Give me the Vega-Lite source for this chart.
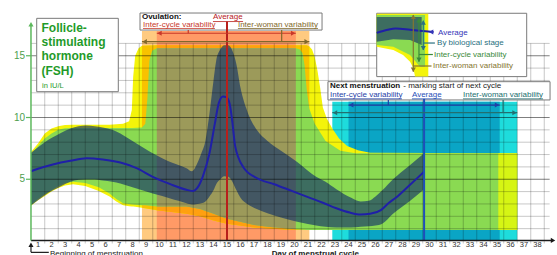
{
"$schema":"https://vega.github.io/schema/vega-lite/v6.json",
"width":557,"height":255,"padding":0,"autosize":{"type":"none"},"background":"white",
"config":{"view":{"stroke":null},"text":{"font":"Liberation Sans"}},
"datasets":{
"cols":[{"k":"ov_w","d":8.7,"d2":21.1,"v":0,"v2":17.0},{"k":"ov_c","d":9.8,"d2":20.1,"v":0,"v2":17.0},{"k":"mn_w","d":22.8,"d2":36.5,"v":0,"v2":11.28},{"k":"mn_c","d":24.0,"d2":35.2,"v":0,"v2":11.28}],
"yw":[{"d":0.48,"v":2.85,"v2":7.2},{"d":1.0,"v":3.3,"v2":7.9},{"d":1.5,"v":3.65,"v2":8.7},{"d":2.0,"v":4.0,"v2":9.1},{"d":2.5,"v":4.3,"v2":9.3},{"d":3.0,"v":4.5,"v2":9.4},{"d":3.6,"v":4.6,"v2":9.42},{"d":4.5,"v":4.45,"v2":9.42},{"d":5.5,"v":4.05,"v2":9.42},{"d":6.3,"v":3.6,"v2":9.42},{"d":6.8,"v":3.2,"v2":9.45},{"d":7.3,"v":2.9,"v2":9.5},{"d":7.75,"v":2.82,"v2":9.7},{"d":7.95,"v":2.8,"v2":10.6},{"d":8.05,"v":2.79,"v2":13.3},{"d":8.2,"v":2.77,"v2":15.0},{"d":8.45,"v":2.74,"v2":15.6},{"d":8.7,"v":2.7,"v2":15.8},{"d":9.8,"v":2.5,"v2":15.85},{"d":12.0,"v":2.2,"v2":15.85},{"d":13.0,"v":2.0,"v2":15.85},{"d":14.0,"v":1.65,"v2":15.85},{"d":15.0,"v":1.4,"v2":15.85},{"d":17.0,"v":1.1,"v2":15.85},{"d":19.0,"v":0.95,"v2":15.85},{"d":20.1,"v":0.9,"v2":15.85},{"d":20.9,"v":0.9,"v2":15.85},{"d":21.1,"v":0.9,"v2":15.75},{"d":21.3,"v":0.9,"v2":15.5},{"d":21.5,"v":0.9,"v2":14.9},{"d":21.7,"v":0.9,"v2":13.8},{"d":21.9,"v":0.9,"v2":12.4},{"d":22.1,"v":0.9,"v2":10.8},{"d":22.4,"v":0.9,"v2":9.9},{"d":22.8,"v":0.9,"v2":9.1},{"d":23.3,"v":0.9,"v2":8.3},{"d":23.9,"v":0.9,"v2":7.7},{"d":24.7,"v":0.9,"v2":7.35},{"d":25.6,"v":0.9,"v2":7.15},{"d":35.1,"v":0.9,"v2":7.1},{"d":36.5,"v":0.9,"v2":7.1}],
"gc":[{"d":0.48,"v":2.9,"v2":7.05},{"d":1.0,"v":3.4,"v2":7.7},{"d":1.5,"v":3.8,"v2":8.3},{"d":2.0,"v":4.1,"v2":8.7},{"d":2.5,"v":4.45,"v2":9.0},{"d":3.0,"v":4.7,"v2":9.12},{"d":3.6,"v":4.8,"v2":9.15},{"d":4.5,"v":4.7,"v2":9.15},{"d":5.5,"v":4.35,"v2":9.15},{"d":6.3,"v":3.85,"v2":9.15},{"d":6.8,"v":3.4,"v2":9.15},{"d":7.3,"v":3.05,"v2":9.15},{"d":8.0,"v":2.95,"v2":9.15},{"d":8.7,"v":2.9,"v2":9.2},{"d":8.95,"v":2.89,"v2":9.5},{"d":9.1,"v":2.88,"v2":11.5},{"d":9.25,"v":2.86,"v2":14.6},{"d":9.45,"v":2.83,"v2":15.4},{"d":9.8,"v":2.8,"v2":15.6},{"d":12.0,"v":2.8,"v2":15.6},{"d":13.0,"v":2.6,"v2":15.6},{"d":14.0,"v":2.2,"v2":15.6},{"d":15.0,"v":1.8,"v2":15.6},{"d":17.0,"v":1.3,"v2":15.6},{"d":18.0,"v":1.15,"v2":15.6},{"d":20.1,"v":0.95,"v2":15.6},{"d":20.4,"v":0.93,"v2":15.5},{"d":20.6,"v":0.92,"v2":15.2},{"d":20.75,"v":0.91,"v2":14.2},{"d":20.9,"v":0.9,"v2":12.3},{"d":21.1,"v":0.9,"v2":10.7},{"d":21.5,"v":0.9,"v2":9.5},{"d":22.3,"v":0.9,"v2":8.1},{"d":23.4,"v":0.9,"v2":7.3},{"d":24.5,"v":0.9,"v2":7.1},{"d":35.1,"v":0.9,"v2":7.1}],
"bs":[{"d":0.48,"v":2.9,"v2":7.15},{"d":1.0,"v":3.3,"v2":7.6},{"d":1.5,"v":3.7,"v2":8.0},{"d":2.1,"v":4.1,"v2":8.4},{"d":2.8,"v":4.5,"v2":8.8},{"d":3.4,"v":4.8,"v2":9.1},{"d":4.0,"v":4.95,"v2":9.3},{"d":4.6,"v":5.0,"v2":9.35},{"d":5.2,"v":5.0,"v2":9.3},{"d":5.8,"v":4.9,"v2":9.2},{"d":6.5,"v":4.8,"v2":9.0},{"d":7.1,"v":4.65,"v2":8.7},{"d":7.7,"v":4.45,"v2":8.3},{"d":8.3,"v":4.25,"v2":7.9},{"d":8.9,"v":4.05,"v2":7.5},{"d":9.5,"v":3.85,"v2":7.1},{"d":10.2,"v":3.65,"v2":6.7},{"d":10.8,"v":3.45,"v2":6.4},{"d":11.4,"v":3.25,"v2":6.15},{"d":12.0,"v":3.05,"v2":5.9},{"d":12.4,"v":2.95,"v2":5.65},{"d":12.8,"v":3.0,"v2":6.3},{"d":13.1,"v":3.05,"v2":7.1},{"d":13.4,"v":3.2,"v2":8.1},{"d":13.7,"v":3.6,"v2":10.3},{"d":14.0,"v":4.1,"v2":13.0},{"d":14.2,"v":4.6,"v2":14.6},{"d":14.5,"v":5.0,"v2":15.5},{"d":14.8,"v":5.25,"v2":15.85},{"d":15.1,"v":5.2,"v2":15.85},{"d":15.4,"v":4.8,"v2":15.4},{"d":15.7,"v":4.1,"v2":14.3},{"d":16.0,"v":3.5,"v2":12.4},{"d":16.5,"v":3.0,"v2":10.5},{"d":17.2,"v":2.6,"v2":9.0},{"d":18.0,"v":2.25,"v2":8.1},{"d":19.0,"v":1.9,"v2":7.3},{"d":20.2,"v":1.55,"v2":6.4},{"d":21.6,"v":1.25,"v2":5.2},{"d":22.3,"v":1.15,"v2":4.8},{"d":23.1,"v":1.1,"v2":4.2},{"d":24.2,"v":1.1,"v2":3.5},{"d":24.9,"v":1.15,"v2":3.2},{"d":25.5,"v":1.2,"v2":3.25},{"d":26.0,"v":1.25,"v2":3.6},{"d":26.5,"v":1.4,"v2":4.1},{"d":27.3,"v":2.2,"v2":5.0},{"d":28.5,"v":3.2,"v2":6.1},{"d":29.6,"v":4.2,"v2":7.1}],
"avg":[{"d":0.48,"v":5.65},{"d":1.0,"v":5.85},{"d":2.1,"v":6.2},{"d":3.4,"v":6.5},{"d":4.6,"v":6.7},{"d":5.8,"v":6.6},{"d":7.1,"v":6.35},{"d":8.3,"v":5.9},{"d":9.5,"v":5.2},{"d":10.8,"v":4.6},{"d":12.0,"v":4.15},{"d":12.5,"v":4.05},{"d":12.8,"v":4.3},{"d":13.2,"v":5.2},{"d":13.7,"v":7.1},{"d":14.1,"v":9.5},{"d":14.4,"v":11.2},{"d":14.7,"v":11.7},{"d":14.95,"v":11.65},{"d":15.2,"v":11.1},{"d":15.4,"v":9.6},{"d":15.6,"v":7.7},{"d":16.2,"v":6.0},{"d":17.2,"v":5.1},{"d":18.5,"v":4.6},{"d":19.7,"v":4.1},{"d":21.0,"v":3.55},{"d":22.1,"v":3.1},{"d":23.1,"v":2.65},{"d":24.1,"v":2.3},{"d":24.9,"v":2.15},{"d":25.6,"v":2.2},{"d":26.4,"v":2.5},{"d":27.0,"v":3.1},{"d":27.5,"v":3.5},{"d":28.5,"v":4.5},{"d":29.6,"v":5.6}],
"boxes":[{"d":0.904,"d2":6.948,"v":12.09,"v2":18.03},{"d":8.556,"d2":22.04,"v":17.08,"v2":18.46},{"d":22.48,"d2":38.93,"v":11.42,"v2":12.9},{"d":26.09,"d2":37.2,"v":13.31,"v2":18.44}],
"lgy":[{"d":26.09,"v":15.73,"v2":18.4},{"d":27.32,"v":15.47,"v2":18.4},{"d":28.04,"v":15.06,"v2":18.4},{"d":28.56,"v":14.52,"v2":18.4},{"d":28.8,"v":14.0,"v2":18.4},{"d":28.93,"v":13.31,"v2":18.4},{"d":29.91,"v":13.31,"v2":18.4}],
"lgg":[{"d":26.09,"v":15.87,"v2":18.3},{"d":27.32,"v":15.73,"v2":18.3},{"d":28.56,"v":15.06,"v2":18.3},{"d":29.3,"v":14.11,"v2":18.3},{"d":29.67,"v":14.11,"v2":18.3}],
"lgd":[{"d":26.09,"v":16.14,"v2":18.14},{"d":27.32,"v":16.33,"v2":18.14},{"d":28.56,"v":16.28,"v2":18.14},{"d":29.42,"v":15.87,"v2":18.14}],
"lgavg":[{"d":26.09,"v":16.85},{"d":26.9,"v":17.1},{"d":27.5,"v":17.2},{"d":28.56,"v":17.1},{"d":29.5,"v":17.0},{"d":30.3,"v":16.92}],
"vavg":[{"k":"ov_avg","d":15.0,"v":0,"v2":17.77},{"k":"mn_avg","d":29.6,"v":0,"v2":11.51}],
"hr":[{"k":"ov_cycle","d":9.8,"d2":20.1,"v":16.82},{"k":"ov_woman","d":8.7,"d2":21.1,"v":16.14},{"k":"mn_cycle","d":24.0,"d2":35.2,"v":11.01},{"k":"mn_woman","d":22.8,"d2":36.5,"v":10.39},{"k":"lg_woman","d":28.8,"d2":30.15,"v":14.17},{"k":"lg_cycle","d":29.22,"d2":30.25,"v":15.1},{"k":"lg_stage","d":29.54,"d2":30.4,"v":16.03},{"k":"axis_y","d":0.11,"d2":0.48,"v":5},{"k":"axis_y","d":0.11,"d2":0.48,"v":10},{"k":"axis_y","d":0.11,"d2":0.48,"v":15},{"k":"axis_x","d":0.48,"d2":1.8,"v":-0.92}],
"ul":[{"k":"ov_avg","d":13.96,"d2":16.19,"v":17.77},{"k":"ov_cycle","d":8.78,"d2":14.11,"v":17.21},{"k":"ov_woman","d":15.81,"d2":21.74,"v":17.21},{"k":"mn_cycle","d":22.63,"d2":27.96,"v":11.51},{"k":"mn_avg","d":28.7,"d2":30.9,"v":11.51},{"k":"mn_woman","d":32.48,"d2":38.41,"v":11.51}],
"vr":[{"k":"ov_cycle","d":12.13,"v":16.82,"v2":17.09},{"k":"ov_woman","d":19.05,"v":16.14,"v2":17.09},{"k":"mn_cycle","d":26.95,"v":11.01,"v2":11.42},{"k":"mn_woman","d":35.45,"v":10.39,"v2":11.42},{"k":"lg_woman","d":28.8,"v":13.71,"v2":18.3},{"k":"lg_cycle","d":29.22,"v":14.52,"v2":18.03},{"k":"lg_stage","d":29.54,"v":15.47,"v2":17.84},{"k":"axis_x","d":0.48,"v":-0.92,"v2":-0.3}],
"axes":[{"k":"axis_x","d":0.48,"d2":39.1,"v":0.05,"v2":0.05},{"k":"axis_y","d":0.48,"d2":0.48,"v":0.05,"v2":17.55}],
"heads":[{"k":"ov_cycle","d":10.0,"v":16.82,"dir":"L"},{"k":"ov_cycle","d":19.9,"v":16.82,"dir":"R"},{"k":"ov_woman","d":8.9,"v":16.14,"dir":"L"},{"k":"ov_woman","d":20.9,"v":16.14,"dir":"R"},{"k":"mn_cycle","d":24.2,"v":11.01,"dir":"L"},{"k":"mn_cycle","d":35.0,"v":11.01,"dir":"R"},{"k":"mn_woman","d":23.0,"v":10.39,"dir":"L"},{"k":"mn_woman","d":36.3,"v":10.39,"dir":"R"},{"k":"lg_avg","d":30.12,"v":16.92,"dir":"L"},{"k":"lg_woman","d":28.8,"v":18.15,"dir":"U"},{"k":"lg_woman","d":28.8,"v":13.86,"dir":"D"},{"k":"lg_cycle","d":29.22,"v":17.88,"dir":"U"},{"k":"lg_cycle","d":29.22,"v":14.67,"dir":"D"},{"k":"lg_stage","d":29.54,"v":17.69,"dir":"U"},{"k":"lg_stage","d":29.54,"v":15.62,"dir":"D"},{"k":"axis_y","d":0.48,"v":17.55,"dir":"U"},{"k":"axis_x","d":39.15,"v":0.05,"dir":"R"},{"k":"axis_x","d":0.48,"v":-0.3,"dir":"U"}],
"title":[{"t":"Follicle-","d":1.26,"v":16.96},{"t":"stimulating","d":1.26,"v":15.79},{"t":"hormone","d":1.26,"v":14.62},{"t":"(FSH)","d":1.26,"v":13.44}],
"bold":[{"t":"Ovulation:","d":8.7,"v":18.15},{"t":"Next menstruation","d":22.63,"v":12.55}],
"annot":[{"k":"ov_avg","t":"Average","d":13.96,"v":18.15},{"k":"ov_cycle","t":"Inter-cycle variability","d":8.78,"v":17.5},{"k":"ov_woman","t":"Inter-woman variability","d":15.81,"v":17.5},{"k":"plain","t":"- marking start of next cycle","d":28.06,"v":12.55},{"k":"mn_cycle","t":"Inter-cycle variability","d":22.63,"v":11.86},{"k":"mn_avg","t":"Average","d":28.7,"v":11.86},{"k":"mn_woman","t":"Inter-woman variability","d":32.48,"v":11.86},{"k":"lg_avg","t":"Average","d":30.63,"v":16.88},{"k":"lg_stage","t":"By biological stage","d":30.56,"v":16.03},{"k":"lg_cycle","t":"Inter-cycle variability","d":30.33,"v":15.1},{"k":"lg_woman","t":"Inter-woman variability","d":30.26,"v":14.17}],
"ylab":[{"t":"5","d":0.04,"v":5},{"t":"10","d":0.04,"v":10},{"t":"15","d":0.04,"v":15}],
"days":[{"d":1,"v":-0.36,"t":"1"},{"d":2,"v":-0.36,"t":"2"},{"d":3,"v":-0.36,"t":"3"},{"d":4,"v":-0.36,"t":"4"},{"d":5,"v":-0.36,"t":"5"},{"d":6,"v":-0.36,"t":"6"},{"d":7,"v":-0.36,"t":"7"},{"d":8,"v":-0.36,"t":"8"},{"d":9,"v":-0.36,"t":"9"},{"d":10,"v":-0.36,"t":"10"},{"d":11,"v":-0.36,"t":"11"},{"d":12,"v":-0.36,"t":"12"},{"d":13,"v":-0.36,"t":"13"},{"d":14,"v":-0.36,"t":"14"},{"d":15,"v":-0.36,"t":"15"},{"d":16,"v":-0.36,"t":"16"},{"d":17,"v":-0.36,"t":"17"},{"d":18,"v":-0.36,"t":"18"},{"d":19,"v":-0.36,"t":"19"},{"d":20,"v":-0.36,"t":"20"},{"d":21,"v":-0.36,"t":"21"},{"d":22,"v":-0.36,"t":"22"},{"d":23,"v":-0.36,"t":"23"},{"d":24,"v":-0.36,"t":"24"},{"d":25,"v":-0.36,"t":"25"},{"d":26,"v":-0.36,"t":"26"},{"d":27,"v":-0.36,"t":"27"},{"d":28,"v":-0.36,"t":"28"},{"d":29,"v":-0.36,"t":"29"},{"d":30,"v":-0.36,"t":"30"},{"d":31,"v":-0.36,"t":"31"},{"d":32,"v":-0.36,"t":"32"},{"d":33,"v":-0.36,"t":"33"},{"d":34,"v":-0.36,"t":"34"},{"d":35,"v":-0.36,"t":"35"},{"d":36,"v":-0.36,"t":"36"},{"d":37,"v":-0.36,"t":"37"},{"d":38,"v":-0.36,"t":"38"}],
"gridv":[{"d":1.5,"v":-0.2,"v2":16},{"d":2.5,"v":-0.2,"v2":16},{"d":3.5,"v":-0.2,"v2":16},{"d":4.5,"v":-0.2,"v2":16},{"d":5.5,"v":-0.2,"v2":16},{"d":6.5,"v":-0.2,"v2":16},{"d":7.5,"v":-0.2,"v2":16},{"d":8.5,"v":-0.2,"v2":16},{"d":9.5,"v":-0.2,"v2":16},{"d":10.5,"v":-0.2,"v2":16},{"d":11.5,"v":-0.2,"v2":16},{"d":12.5,"v":-0.2,"v2":16},{"d":13.5,"v":-0.2,"v2":16},{"d":14.5,"v":-0.2,"v2":16},{"d":15.5,"v":-0.2,"v2":16},{"d":16.5,"v":-0.2,"v2":16},{"d":17.5,"v":-0.2,"v2":16},{"d":18.5,"v":-0.2,"v2":16},{"d":19.5,"v":-0.2,"v2":16},{"d":20.5,"v":-0.2,"v2":16},{"d":21.5,"v":-0.2,"v2":16},{"d":22.5,"v":-0.2,"v2":16},{"d":23.5,"v":-0.2,"v2":16},{"d":24.5,"v":-0.2,"v2":16},{"d":25.5,"v":-0.2,"v2":16},{"d":26.5,"v":-0.2,"v2":16},{"d":27.5,"v":-0.2,"v2":16},{"d":28.5,"v":-0.2,"v2":16},{"d":29.5,"v":-0.2,"v2":16},{"d":30.5,"v":-0.2,"v2":16},{"d":31.5,"v":-0.2,"v2":16},{"d":32.5,"v":-0.2,"v2":16},{"d":33.5,"v":-0.2,"v2":16},{"d":34.5,"v":-0.2,"v2":16},{"d":35.5,"v":-0.2,"v2":16},{"d":36.5,"v":-0.2,"v2":16},{"d":37.5,"v":-0.2,"v2":16},{"d":38.5,"v":-0.2,"v2":16}],
"gridh":[{"v":1,"d":0.48,"d2":38.9},{"v":2,"d":0.48,"d2":38.9},{"v":3,"d":0.48,"d2":38.9},{"v":4,"d":0.48,"d2":38.9},{"v":6,"d":0.48,"d2":38.9},{"v":7,"d":0.48,"d2":38.9},{"v":8,"d":0.48,"d2":38.9},{"v":9,"d":0.48,"d2":38.9},{"v":11,"d":0.48,"d2":38.9},{"v":12,"d":0.48,"d2":38.9},{"v":13,"d":0.48,"d2":38.9},{"v":14,"d":0.48,"d2":38.9},{"v":16,"d":0.48,"d2":38.9}],
"gridhm":[{"v":5,"d":0.48,"d2":38.9},{"v":10,"d":0.48,"d2":38.9},{"v":15,"d":0.48,"d2":38.9}]
},
"encoding":{
"x":{"field":"d","type":"quantitative","scale":{"domain":[-1.8148,39.4444],"nice":false,"zero":false},"axis":null},
"y":{"field":"v","type":"quantitative","scale":{"domain":[-1.1336,19.5142],"nice":false,"zero":false},"axis":null}
},
"layer":[
{"data":{"name":"cols"},"mark":{"type":"rect"},"encoding":{"x2":{"field":"d2"},"y2":{"field":"v2"},"color":{"field":"k","type":"nominal","legend":null,"scale":{"domain":["ov_w","ov_c","mn_w","mn_c","ov_avg","ov_cycle","ov_woman","mn_avg","mn_cycle","mn_woman","plain","lg_avg","lg_stage","lg_cycle","lg_woman","axis_x","axis_y"],"range":["#ffca80","#ff9a66","#1edcdc","#0aa5c5","#b8201c","#c8382a","#80682a","#1f4fb8","#1f3fa8","#236f70","#1a1a1a","#3434b8","#2a7080","#3a8a3a","#857530","#1a1a1a","#5cb85c"]}}}},
{"data":{"name":"yw"},"mark":{"type":"area","color":"#f4f40a"},"encoding":{"y2":{"field":"v2"}}},
{"data":{"name":"yw"},"transform":[{"filter":"datum.d >= 8.7 && datum.d <= 21.1"}],"mark":{"type":"area","color":"#f8c200"},"encoding":{"y2":{"field":"v2"}}},
{"data":{"name":"yw"},"transform":[{"filter":"datum.d >= 9.8 && datum.d <= 20.1"}],"mark":{"type":"area","color":"#ffa010"},"encoding":{"y2":{"field":"v2"}}},
{"data":{"name":"yw"},"transform":[{"filter":"datum.d >= 35.1"}],"mark":{"type":"area","color":"#d6f514"},"encoding":{"y2":{"field":"v2"}}},
{"data":{"name":"gc"},"mark":{"type":"area","color":"#8ada52"},"encoding":{"y2":{"field":"v2"}}},
{"data":{"name":"gc"},"transform":[{"filter":"datum.d >= 9.8 && datum.d <= 20.1"}],"mark":{"type":"area","color":"#9c9a5a"},"encoding":{"y2":{"field":"v2"}}},
{"data":{"name":"bs"},"mark":{"type":"area","interpolate":"monotone","fill":"#143269","fillOpacity":0.65},"encoding":{"y2":{"field":"v2"}}},
{"data":{"name":"gridh"},"mark":{"type":"rule","color":"#000000","opacity":0.22,"strokeWidth":1},"encoding":{"x2":{"field":"d2"}}},
{"data":{"name":"gridhm"},"mark":{"type":"rule","color":"#000000","opacity":0.5,"strokeWidth":1},"encoding":{"x2":{"field":"d2"}}},
{"data":{"name":"gridv"},"mark":{"type":"rule","color":"#000000","opacity":0.22,"strokeWidth":1},"encoding":{"y2":{"field":"v2"}}},
{"data":{"name":"avg"},"mark":{"type":"line","interpolate":"monotone","color":"#1f1fa8","strokeWidth":2}},
{"data":{"name":"boxes"},"mark":{"type":"rect","fill":"#ffffff","stroke":"#7a7a7a","strokeWidth":1},"encoding":{"x2":{"field":"d2"},"y2":{"field":"v2"}}},
{"data":{"name":"lgy"},"mark":{"type":"area","color":"#f4f40a"},"encoding":{"y2":{"field":"v2"}}},
{"data":{"name":"lgg"},"mark":{"type":"area","color":"#8ada52"},"encoding":{"y2":{"field":"v2"}}},
{"data":{"name":"lgd"},"mark":{"type":"area","fill":"#143269","fillOpacity":0.65},"encoding":{"y2":{"field":"v2"}}},
{"data":{"name":"lgavg"},"mark":{"type":"line","interpolate":"monotone","color":"#1f1fa8","strokeWidth":2}},
{"data":{"name":"vavg"},"mark":{"type":"rule","strokeWidth":2},"encoding":{"y2":{"field":"v2"},"color":{"field":"k","type":"nominal","legend":null,"scale":{"domain":["ov_w","ov_c","mn_w","mn_c","ov_avg","ov_cycle","ov_woman","mn_avg","mn_cycle","mn_woman","plain","lg_avg","lg_stage","lg_cycle","lg_woman","axis_x","axis_y"],"range":["#ffca80","#ff9a66","#1edcdc","#0aa5c5","#b8201c","#c8382a","#80682a","#1f4fb8","#1f3fa8","#236f70","#1a1a1a","#3434b8","#2a7080","#3a8a3a","#857530","#1a1a1a","#5cb85c"]}}}},
{"data":{"name":"hr"},"mark":{"type":"rule","strokeWidth":1.2},"encoding":{"x2":{"field":"d2"},"color":{"field":"k","type":"nominal","legend":null,"scale":{"domain":["ov_w","ov_c","mn_w","mn_c","ov_avg","ov_cycle","ov_woman","mn_avg","mn_cycle","mn_woman","plain","lg_avg","lg_stage","lg_cycle","lg_woman","axis_x","axis_y"],"range":["#ffca80","#ff9a66","#1edcdc","#0aa5c5","#b8201c","#c8382a","#80682a","#1f4fb8","#1f3fa8","#236f70","#1a1a1a","#3434b8","#2a7080","#3a8a3a","#857530","#1a1a1a","#5cb85c"]}}}},
{"data":{"name":"ul"},"mark":{"type":"rule","strokeWidth":0.8},"encoding":{"x2":{"field":"d2"},"color":{"field":"k","type":"nominal","legend":null,"scale":{"domain":["ov_w","ov_c","mn_w","mn_c","ov_avg","ov_cycle","ov_woman","mn_avg","mn_cycle","mn_woman","plain","lg_avg","lg_stage","lg_cycle","lg_woman","axis_x","axis_y"],"range":["#ffca80","#ff9a66","#1edcdc","#0aa5c5","#b8201c","#c8382a","#80682a","#1f4fb8","#1f3fa8","#236f70","#1a1a1a","#3434b8","#2a7080","#3a8a3a","#857530","#1a1a1a","#5cb85c"]}}}},
{"data":{"name":"vr"},"mark":{"type":"rule","strokeWidth":1.2},"encoding":{"y2":{"field":"v2"},"color":{"field":"k","type":"nominal","legend":null,"scale":{"domain":["ov_w","ov_c","mn_w","mn_c","ov_avg","ov_cycle","ov_woman","mn_avg","mn_cycle","mn_woman","plain","lg_avg","lg_stage","lg_cycle","lg_woman","axis_x","axis_y"],"range":["#ffca80","#ff9a66","#1edcdc","#0aa5c5","#b8201c","#c8382a","#80682a","#1f4fb8","#1f3fa8","#236f70","#1a1a1a","#3434b8","#2a7080","#3a8a3a","#857530","#1a1a1a","#5cb85c"]}}}},
{"data":{"name":"axes"},"mark":{"type":"rule","strokeWidth":1.5},"encoding":{"x2":{"field":"d2"},"y2":{"field":"v2"},"color":{"field":"k","type":"nominal","legend":null,"scale":{"domain":["ov_w","ov_c","mn_w","mn_c","ov_avg","ov_cycle","ov_woman","mn_avg","mn_cycle","mn_woman","plain","lg_avg","lg_stage","lg_cycle","lg_woman","axis_x","axis_y"],"range":["#ffca80","#ff9a66","#1edcdc","#0aa5c5","#b8201c","#c8382a","#80682a","#1f4fb8","#1f3fa8","#236f70","#1a1a1a","#3434b8","#2a7080","#3a8a3a","#857530","#1a1a1a","#5cb85c"]}}}},
{"data":{"name":"heads"},"mark":{"type":"point","filled":true,"size":26,"opacity":1},"encoding":{"shape":{"field":"dir","type":"nominal","legend":null,"scale":{"domain":["L","R","U","D"],"range":["triangle-left","triangle-right","triangle-up","triangle-down"]}},"color":{"field":"k","type":"nominal","legend":null,"scale":{"domain":["ov_w","ov_c","mn_w","mn_c","ov_avg","ov_cycle","ov_woman","mn_avg","mn_cycle","mn_woman","plain","lg_avg","lg_stage","lg_cycle","lg_woman","axis_x","axis_y"],"range":["#ffca80","#ff9a66","#1edcdc","#0aa5c5","#b8201c","#c8382a","#80682a","#1f4fb8","#1f3fa8","#236f70","#1a1a1a","#3434b8","#2a7080","#3a8a3a","#857530","#1a1a1a","#5cb85c"]}}}},
{"data":{"name":"title"},"mark":{"type":"text","font":"Liberation Sans","fontSize":12,"fontWeight":"bold","color":"#1f9b2a","align":"left","baseline":"alphabetic"},"encoding":{"text":{"field":"t","type":"nominal"}}},
{"data":{"values":[{"t":"in IU/L","d":1.3,"v":12.39}]},"mark":{"type":"text","font":"Liberation Sans","fontSize":7.5,"color":"#1f9b2a","align":"left","baseline":"alphabetic"},"encoding":{"text":{"field":"t","type":"nominal"}}},
{"data":{"name":"bold"},"mark":{"type":"text","font":"Liberation Sans","fontSize":8,"fontWeight":"bold","color":"#111111","align":"left","baseline":"middle"},"encoding":{"text":{"field":"t","type":"nominal"}}},
{"data":{"name":"annot"},"mark":{"type":"text","font":"Liberation Sans","fontSize":8,"align":"left","baseline":"middle"},"encoding":{"text":{"field":"t","type":"nominal"},"color":{"field":"k","type":"nominal","legend":null,"scale":{"domain":["ov_w","ov_c","mn_w","mn_c","ov_avg","ov_cycle","ov_woman","mn_avg","mn_cycle","mn_woman","plain","lg_avg","lg_stage","lg_cycle","lg_woman","axis_x","axis_y"],"range":["#ffca80","#ff9a66","#1edcdc","#0aa5c5","#b8201c","#c8382a","#80682a","#1f4fb8","#1f3fa8","#236f70","#1a1a1a","#3434b8","#2a7080","#3a8a3a","#857530","#1a1a1a","#5cb85c"]}}}},
{"data":{"name":"ylab"},"mark":{"type":"text","font":"Liberation Sans","fontSize":10,"color":"#4e9e4e","align":"right","baseline":"middle"},"encoding":{"text":{"field":"t","type":"nominal"}}},
{"data":{"name":"days"},"mark":{"type":"text","font":"Liberation Sans","fontSize":7.5,"color":"#333333","align":"center","baseline":"middle"},"encoding":{"text":{"field":"t","type":"nominal"}}},
{"data":{"values":[{"t":"Day of menstrual cycle","d":18.31,"v":-1.06}]},"mark":{"type":"text","font":"Liberation Sans","fontSize":8,"fontWeight":"bold","color":"#1a1a1a","align":"left","baseline":"middle"},"encoding":{"text":{"field":"t","type":"nominal"}}},
{"data":{"values":[{"t":"Beginning of menstruation","d":1.89,"v":-1.04}]},"mark":{"type":"text","font":"Liberation Sans","fontSize":8,"color":"#1a1a1a","align":"left","baseline":"middle"},"encoding":{"text":{"field":"t","type":"nominal"}}}
]
}
